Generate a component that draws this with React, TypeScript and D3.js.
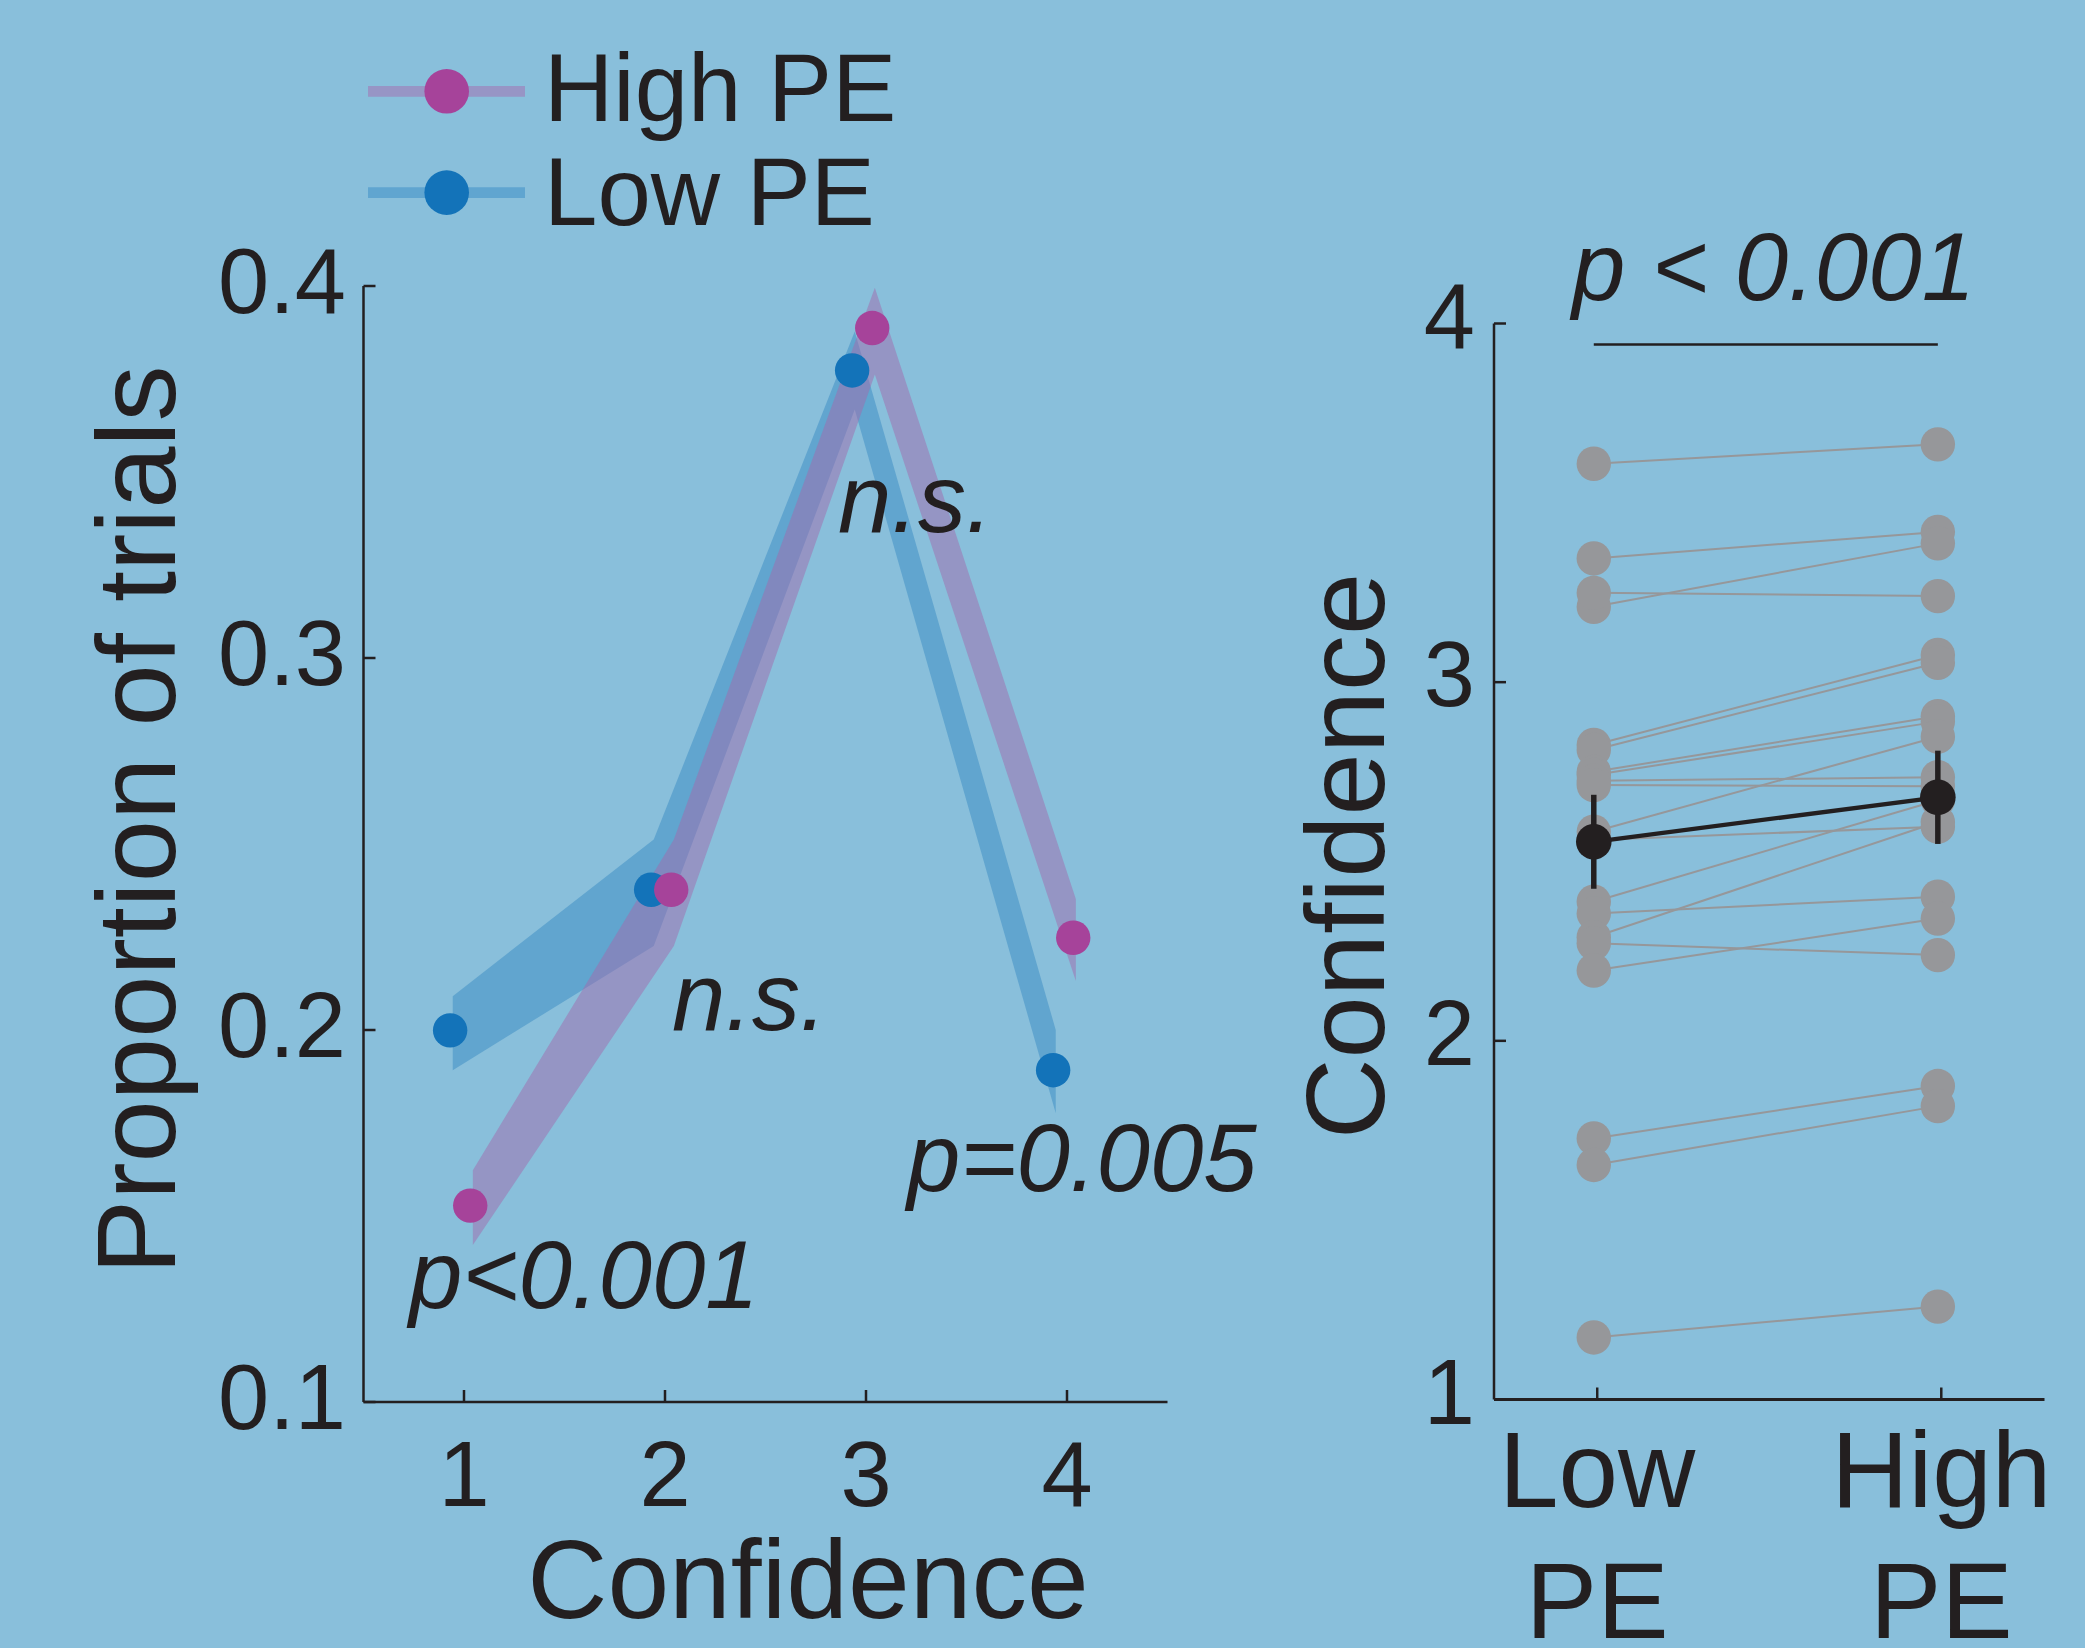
import React from 'react';
import * as d3 from 'd3';

const W = 2085;
const H = 1648;

// ---- Left panel data ----
const confidenceLevels = [1, 2, 3, 4];
const highPEMean = [0.1528, 0.2377, 0.3887, 0.2248];
const highPELower = [0.1422, 0.2226, 0.3762, 0.2132];
const highPEUpper = [0.1623, 0.2512, 0.3995, 0.2352];
const lowPEMean = [0.1999, 0.2377, 0.3773, 0.1892];
const lowPELower = [0.1892, 0.2226, 0.3668, 0.1776];
const lowPEUpper = [0.2091, 0.2512, 0.3878, 0.2];
const leftYTicks = [0.1, 0.2, 0.3, 0.4];
const leftYTickLabels = ['0.1', '0.2', '0.3', '0.4'];
const leftXTickLabels = ['1', '2', '3', '4'];
const legendLabels = ['High PE', 'Low PE'];

// ---- Right panel data ----
const peCategories = [1, 2];
const peCategoryLabels = [['Low', 'PE'], ['High', 'PE']];
const subjectLowPE = [3.609, 3.345, 3.21, 3.249, 2.825, 2.811, 2.75, 2.741, 2.725, 2.713, 2.583, 2.56, 2.388, 2.355, 2.289, 2.272, 2.196, 1.728, 1.654, 1.173];
const subjectHighPE = [3.663, 3.419, 3.387, 3.24, 3.076, 3.054, 2.905, 2.89, 2.735, 2.71, 2.848, 2.597, 2.671, 2.402, 2.61, 2.239, 2.341, 1.874, 1.818, 1.259];
const groupMean = [2.555, 2.679];
const groupSEM = [0.131, 0.13];
const rightYTicks = [1, 2, 3, 4];
const rightYTickLabels = ['1', '2', '3', '4'];

const BG = '#89bfdb';
const INK = '#231f20';
const MAGENTA = '#a6439a';
const BLUE = '#1373b9';
const MAGENTA_BAND = '#a16bad';
const BLUE_BAND = '#398bc3';
const MAGENTA_LEG = '#9795c5';
const BLUE_LEG = '#60a5d0';
const GRAY = '#96979a';
const FONT = '"Liberation Sans", Arial, Helvetica, sans-serif';

export default function App() {
  // Left scales
  const xL = d3.scaleLinear().domain([0.5, 4.5]).range([363.5, 1167.5]);
  const yL = d3.scaleLinear().domain([0.1, 0.4]).range([1402, 286]);
  // Right scales
  const xR = d3.scaleLinear().domain([0.7, 2.3]).range([1494, 2044.5]);
  const yR = d3.scaleLinear().domain([1, 4]).range([1399.5, 323.5]);

  const blueBandOff = -0.056;
  const magBandOff = 0.044;
  const blueDotOff = -0.069;
  const magDotOff = 0.031;
  const rOff = -0.01;

  const idx = confidenceLevels.map((_, i) => i);
  const bandArea = (off: number, lo: number[], hi: number[]) =>
    d3
      .area<number>()
      .x((i) => xL(confidenceLevels[i] + off))
      .y0((i) => yL(lo[i]))
      .y1((i) => yL(hi[i]))(idx) || '';

  const meanLine = d3
    .line<number>()
    .x((i) => xR(peCategories[i] + rOff))
    .y((i) => yR(groupMean[i]))([0, 1]) || '';

  const tickLen = 12;

  return (
    <div style={{ position: 'absolute', left: 0, top: 0, width: W, height: H, overflow: 'hidden' }}>
      <svg width={W} height={H} style={{ display: 'block' }} fontFamily={FONT}>
        <rect x={0} y={0} width={W} height={H} fill={BG} />

        {/* ---------- LEFT PANEL ---------- */}
        <path d={bandArea(blueBandOff, lowPELower, lowPEUpper)} fill={BLUE_BAND} fillOpacity={0.5} />
        <path d={bandArea(magBandOff, highPELower, highPEUpper)} fill={MAGENTA_BAND} fillOpacity={0.5} />
        {lowPEMean.map((v, i) => (
          <circle key={'b' + i} cx={xL(confidenceLevels[i] + blueDotOff)} cy={yL(v)} r={17.2} fill={BLUE} />
        ))}
        {highPEMean.map((v, i) => (
          <circle key={'m' + i} cx={xL(confidenceLevels[i] + magDotOff)} cy={yL(v)} r={17.2} fill={MAGENTA} />
        ))}

        {/* axes */}
        <line x1={xL(0.5)} x2={xL(4.5)} y1={yL(0.1)} y2={yL(0.1)} stroke={INK} strokeWidth={2.5} />
        <line x1={xL(0.5)} x2={xL(0.5)} y1={yL(0.1)} y2={yL(0.4)} stroke={INK} strokeWidth={2.5} />
        {leftYTicks.map((t, i) => (
          <g key={'ly' + i}>
            <line x1={xL(0.5)} x2={xL(0.5) + tickLen} y1={yL(t)} y2={yL(t)} stroke={INK} strokeWidth={2.5} />
            <text x={346} y={yL(t) + 27} textAnchor="end" fontSize={92} fill={INK}>
              {leftYTickLabels[i]}
            </text>
          </g>
        ))}
        {confidenceLevels.map((c, i) => (
          <g key={'lx' + i}>
            <line x1={xL(c)} x2={xL(c)} y1={yL(0.1)} y2={yL(0.1) - tickLen} stroke={INK} strokeWidth={2.5} />
            <text x={xL(c)} y={1506} textAnchor="middle" fontSize={92} fill={INK}>
              {leftXTickLabels[i]}
            </text>
          </g>
        ))}
        <text x={808} y={1618} textAnchor="middle" fontSize={111} fill={INK}>
          Confidence
        </text>
        <text transform={`translate(175, 820) rotate(-90)`} textAnchor="middle" fontSize={112} fill={INK}>
          Proportion of trials
        </text>

        {/* annotations */}
        <g fontStyle="italic" fontSize={96} fill={INK}>
          <text x={409} y={1308}>p&lt;0.001</text>
          <text x={672} y={1030}>n.s.</text>
          <text x={838} y={532}>n.s.</text>
          <text x={907} y={1191}>p=0.005</text>
        </g>

        {/* legend */}
        <line x1={368} x2={525} y1={91.3} y2={91.3} stroke={MAGENTA_LEG} strokeWidth={10.7} />
        <circle cx={446.7} cy={91.3} r={22.3} fill={MAGENTA} />
        <line x1={368} x2={525} y1={192.6} y2={192.6} stroke={BLUE_LEG} strokeWidth={10.7} />
        <circle cx={446.7} cy={192.6} r={22.3} fill={BLUE} />
        <text x={544} y={121} fontSize={96} fill={INK}>
          {legendLabels[0]}
        </text>
        <text x={544} y={224.5} fontSize={96} fill={INK}>
          {legendLabels[1]}
        </text>

        {/* ---------- RIGHT PANEL ---------- */}
        {subjectLowPE.map((v, i) => (
          <line
            key={'sl' + i}
            x1={xR(peCategories[0] + rOff)}
            x2={xR(peCategories[1] + rOff)}
            y1={yR(v)}
            y2={yR(subjectHighPE[i])}
            stroke={GRAY}
            strokeWidth={2}
          />
        ))}
        {subjectLowPE.map((v, i) => (
          <circle key={'dl' + i} cx={xR(peCategories[0] + rOff)} cy={yR(v)} r={17.2} fill={GRAY} />
        ))}
        {subjectHighPE.map((v, i) => (
          <circle key={'dh' + i} cx={xR(peCategories[1] + rOff)} cy={yR(v)} r={17.2} fill={GRAY} />
        ))}
        <path d={meanLine} stroke={INK} strokeWidth={4.3} fill="none" />
        {groupMean.map((m, i) => (
          <g key={'gm' + i}>
            <line
              x1={xR(peCategories[i] + rOff)}
              x2={xR(peCategories[i] + rOff)}
              y1={yR(m - groupSEM[i])}
              y2={yR(m + groupSEM[i])}
              stroke={INK}
              strokeWidth={5.5}
            />
            <circle cx={xR(peCategories[i] + rOff)} cy={yR(m)} r={17.8} fill={INK} />
          </g>
        ))}

        {/* axes */}
        <line x1={xR(0.7)} x2={xR(2.3)} y1={yR(1)} y2={yR(1)} stroke={INK} strokeWidth={3} />
        <line x1={xR(0.7)} x2={xR(0.7)} y1={yR(1)} y2={yR(4)} stroke={INK} strokeWidth={2.5} />
        {rightYTicks.map((t, i) => (
          <g key={'ry' + i}>
            <line x1={xR(0.7)} x2={xR(0.7) + tickLen} y1={yR(t)} y2={yR(t)} stroke={INK} strokeWidth={2.5} />
            <text x={1475} y={yR(t) + 24} textAnchor="end" fontSize={92} fill={INK}>
              {rightYTickLabels[i]}
            </text>
          </g>
        ))}
        {peCategories.map((c, i) => (
          <g key={'rx' + i}>
            <line x1={xR(c)} x2={xR(c)} y1={yR(1)} y2={yR(1) - tickLen} stroke={INK} strokeWidth={2.5} />
            <text x={xR(c)} y={1507} textAnchor="middle" fontSize={107} fill={INK}>
              {peCategoryLabels[i][0]}
            </text>
            <text x={xR(c)} y={1638} textAnchor="middle" fontSize={107} fill={INK}>
              {peCategoryLabels[i][1]}
            </text>
          </g>
        ))}
        <text transform={`translate(1384, 856) rotate(-90)`} textAnchor="middle" fontSize={112} fill={INK}>
          Confidence
        </text>

        {/* significance */}
        <line
          x1={xR(peCategories[0] + rOff)}
          x2={xR(peCategories[1] + rOff)}
          y1={344.4}
          y2={344.4}
          stroke={INK}
          strokeWidth={2.5}
        />
        <text x={1572} y={299.5} fontStyle="italic" fontSize={96} fill={INK}>
          p &lt; 0.001
        </text>
      </svg>
    </div>
  );
}
